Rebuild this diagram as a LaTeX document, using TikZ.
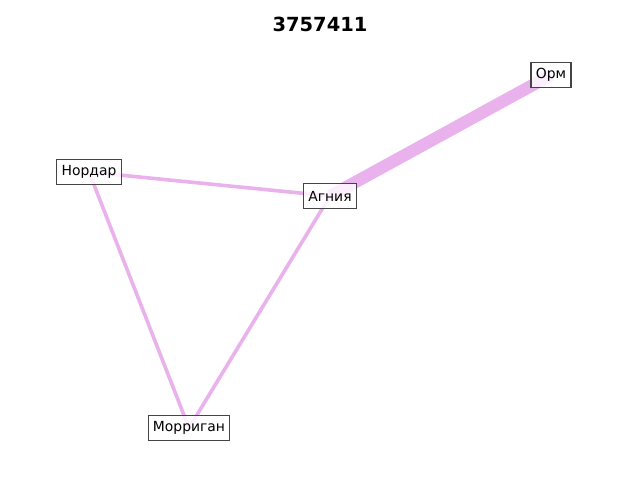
\documentclass[tikz,border=0pt]{standalone}
\usepackage{fontspec}
\setmainfont{DejaVu Sans}
\usetikzlibrary{backgrounds}
\definecolor{edgeviolet}{RGB}{234,178,237}
\definecolor{boxgray}{RGB}{68,68,68}
\tikzset{
  person/.style={draw=boxgray, fill=white, fill opacity=0.8, text opacity=1, line width=0.8pt, inner xsep=3.5pt, minimum height=18.5pt, font=\fontsize{10}{12}\selectfont},
  tie/.style={draw=edgeviolet, line width=2.6pt},
  strongtie/.style={draw=edgeviolet, line width=8.8pt}
}
\begin{document}
\begin{tikzpicture}[x=0.72pt, y=-0.72pt]
\useasboundingbox (0,0) rectangle (640,480);
\node[font=\fontsize{14}{16}\selectfont\bfseries] (title) at (320,24) {3757411};
\node[person] (orm) at (551,75) {Орм};
\node[person] (agniya) at (330,196) {Агния};
\node[person] (nordar) at (89,172) {Нордар};
\node[person] (morrigan) at (189,428) {Морриган};
\begin{scope}[on background layer]
\draw[strongtie] (agniya.center) -- (orm.center);
\draw[tie] (nordar.center) -- (agniya.center);
\draw[tie] (nordar.center) -- (morrigan.center);
\draw[tie] (agniya.center) -- (morrigan.center);
\end{scope}
\end{tikzpicture}
\end{document}
